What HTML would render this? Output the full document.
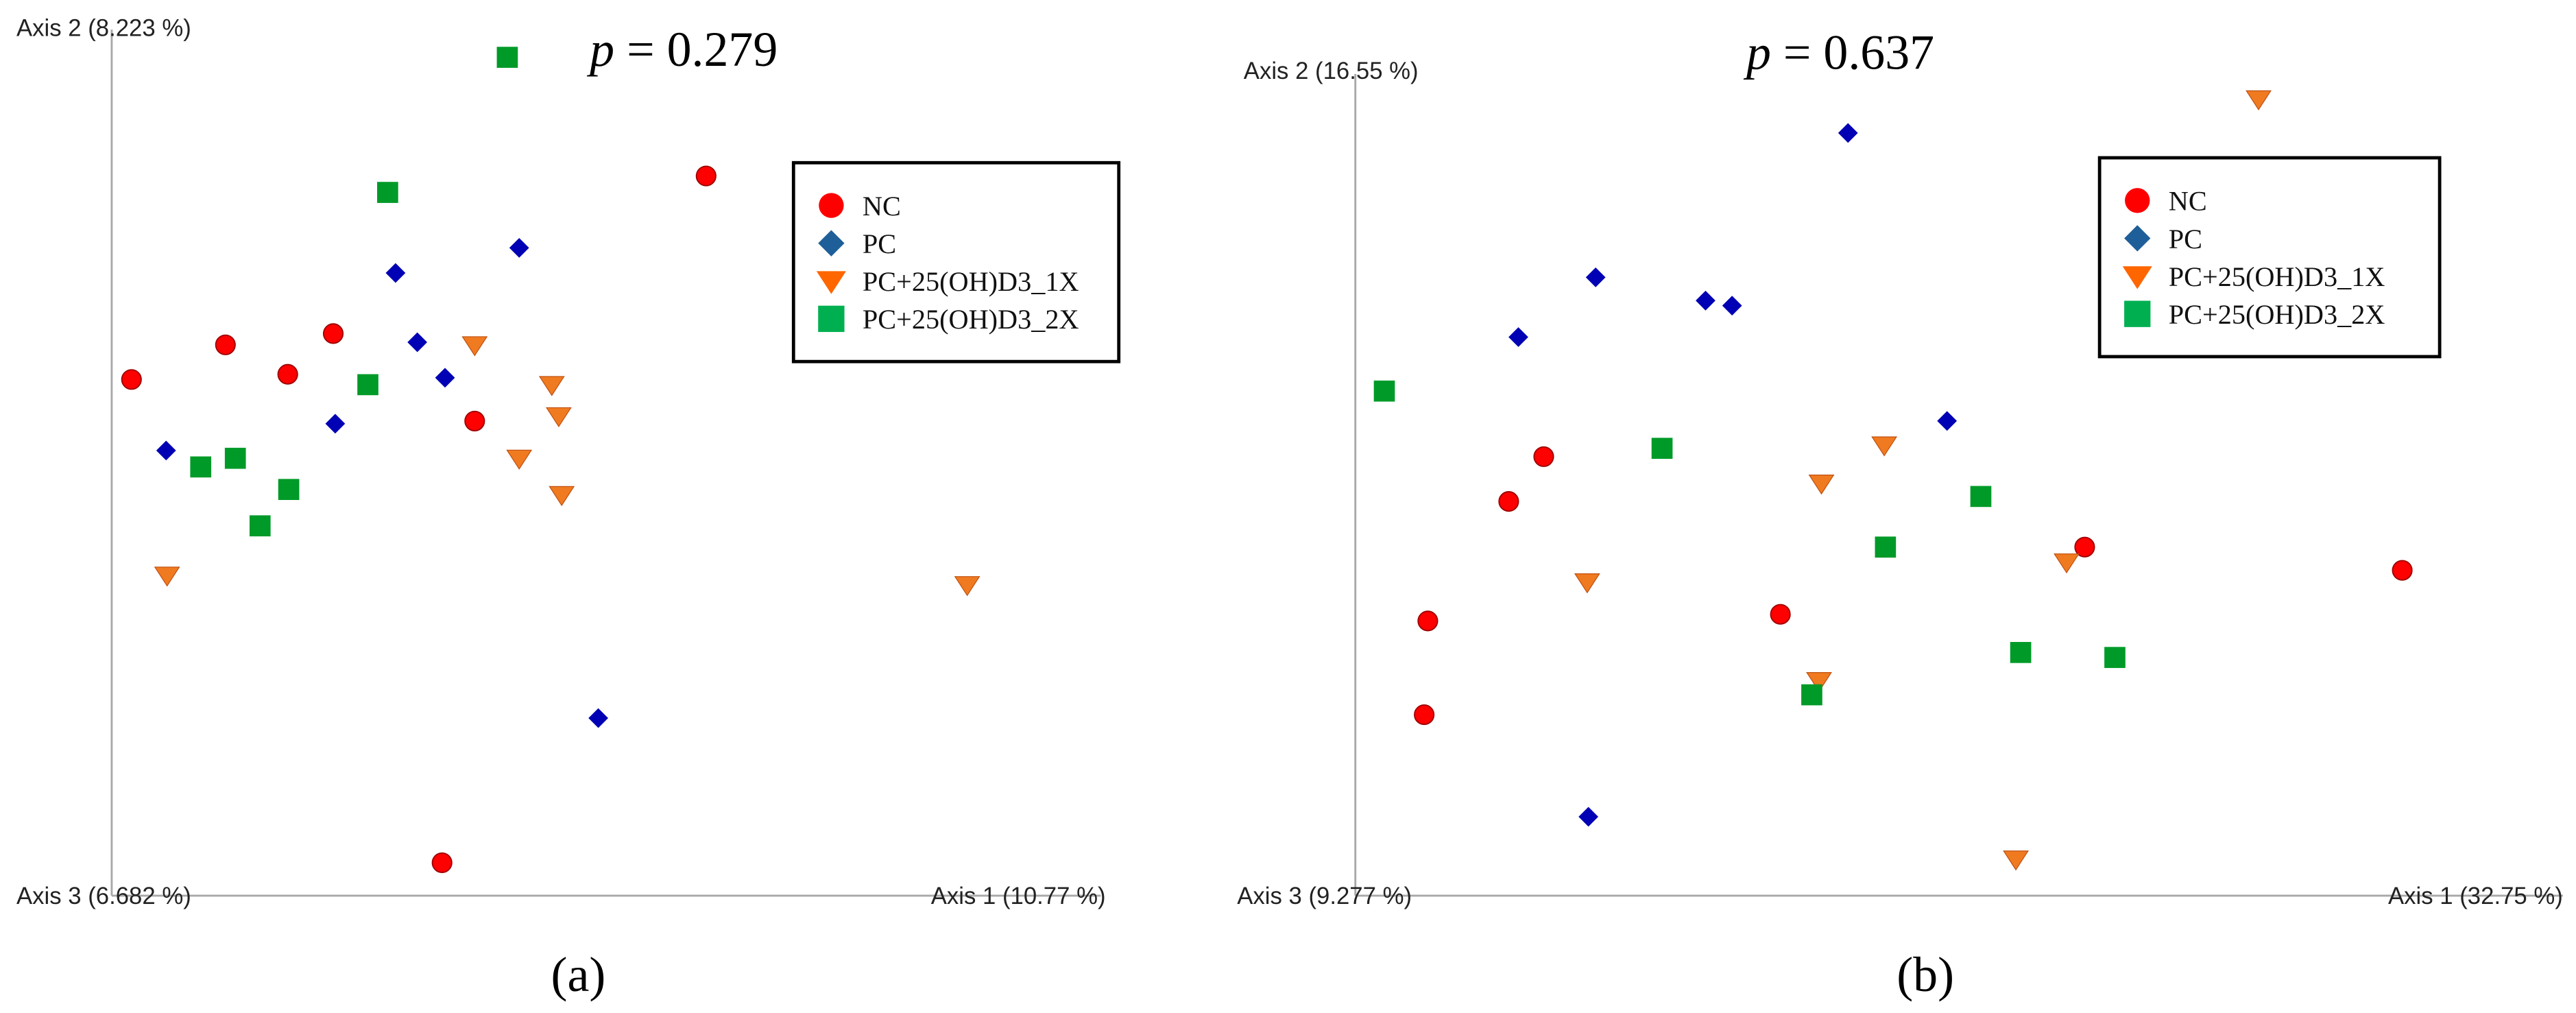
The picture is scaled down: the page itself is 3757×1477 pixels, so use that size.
<!DOCTYPE html>
<html><head><meta charset="utf-8"><style>
html,body{margin:0;padding:0;background:#fff;}
svg{display:block;}
</style></head><body>
<svg id="chart" width="3757" height="1477" viewBox="0 0 1568 616.4" xmlns="http://www.w3.org/2000/svg">
<g id="root"></g>
</svg>
<script>
// Panel (a) data: axis-relative units 0..100
const aNC_x=[2.0,11.5,17.8,22.4,36.7,60.1,33.4];
const aNC_y=[59.6,63.6,60.2,64.9,54.8,83.1,3.8];
const aPC_x=[5.5,22.6,28.7,30.9,33.7,41.2,49.2];
const aPC_y=[51.4,54.5,71.9,63.9,59.8,74.8,20.5];
const a1X_x=[5.6,36.7,44.5,45.2,41.2,45.5,86.5];
const a1X_y=[37.0,63.6,59.0,55.4,50.5,46.3,35.9];
const a2X_x=[40.0,27.9,25.9,9.0,12.5,17.9,15.0];
const a2X_y=[96.8,81.2,59.0,49.5,50.5,46.9,42.7];
// Panel (b) data
const bNC_x=[15.6,12.7,6.0,5.7,35.2,60.4,86.7];
const bNC_y=[52.9,47.5,33.1,21.8,33.9,42.0,39.2];
const bPC_x=[40.8,19.9,13.5,29.0,31.2,49.0,19.3];
const bPC_y=[91.9,74.5,67.3,71.7,71.1,57.2,9.5];
const b1X_x=[74.8,43.8,38.6,19.2,58.9,38.4,54.7];
const b1X_y=[96.0,54.3,49.7,37.8,40.2,25.9,4.4];
const b2X_x=[2.4,25.4,51.8,43.9,55.1,62.9,37.8];
const b2X_y=[60.8,53.9,48.1,42.0,29.3,28.7,24.2];
const legendLabels=["NC","PC","PC+25(OH)D3_1X","PC+25(OH)D3_2X"];

const NS="http://www.w3.org/2000/svg";
const root=document.getElementById('root');
function mk(tag,attrs,parent){const e=document.createElementNS(NS,tag);for(const k in attrs)e.setAttribute(k,attrs[k]);(parent||root).appendChild(e);return e;}
function marker(g,type,cx,cy,s,legend){
  let e;
  if(type===0){e=mk('circle',{cx:cx,cy:cy,r:s*0.95,fill:'#ff0000',stroke:legend?'none':'#a00000','stroke-width':0.8},g);}
  else if(type===1){e=mk('polygon',{points:`${cx},${cy-s} ${cx+s},${cy} ${cx},${cy+s} ${cx-s},${cy}`,fill:legend?'#1f5f99':'#0000b4'},g);}
  else if(type===2){const w=s*1.2;e=mk('polygon',{points:`${cx-w},${cy-s*0.8} ${cx+w},${cy-s*0.8} ${cx},${cy+s*1.05}`,fill:legend?'#ff6600':'#f07a20',stroke:legend?'none':'#c05010','stroke-width':0.5},g);}
  else {e=mk('rect',{x:cx-s,y:cy-s,width:2*s,height:2*s,fill:legend?'#00b050':'#009a28'},g);}
  return e;
}
function panel(cfg){
  const g=mk('g',{});
  
  
  const sx=v=>cfg.x0+(cfg.x1-cfg.x0)*v/100;
  const sy=v=>cfg.y0-(cfg.y0-cfg.y1)*v/100;
  const ya=mk('line',{x1:cfg.x0,y1:cfg.y0,x2:cfg.x0,y2:cfg.yTop,stroke:'#a8a8a8','stroke-width':1.2},g);
  
  
  const xa=mk('line',{x1:cfg.x0,y1:cfg.y0,x2:cfg.xEnd,y2:cfg.y0,stroke:'#a8a8a8','stroke-width':1.2},g);
  
  
  const series=[cfg.nc,cfg.pc,cfg.x1x,cfg.x2x];
  const sizes=[6.2,6,6.2,6.4];
  const names=['nc','pc','1x','2x'];
  series.forEach((s,t)=>{
    for(let i=0;i<s[0].length;i++){
      const m=marker(g,t,sx(s[0][i]),sy(s[1][i]),sizes[t],false);
      
      
    }
  });
  const tf='font-family:"Liberation Sans",sans-serif;font-size:14.5px;fill:#222';
  let t=mk('text',{x:cfg.l2x,y:cfg.l2y,style:tf},g);t.textContent=cfg.lab2;
  
  
  t=mk('text',{x:cfg.l3x,y:cfg.y0+5,style:tf},g);t.textContent=cfg.lab3;
  
  
  t=mk('text',{x:cfg.l1x,y:cfg.y0+5,style:tf,'text-anchor':'end'},g);t.textContent=cfg.lab1;
  
  
  t=mk('text',{x:cfg.px,y:cfg.py,style:'font-family:"Liberation Serif",serif;font-size:30px;fill:#000'},g);
  t.innerHTML='<tspan font-style="italic">p</tspan> = '+cfg.pval;
  
  
  t=mk('text',{x:cfg.cx,y:603,style:'font-family:"Liberation Serif",serif;font-size:30px;fill:#000','text-anchor':'middle'},g);
  t.textContent=cfg.cap;
  
  
  const lg=mk('g',{},g);
  
  
  mk('rect',{x:cfg.lgx,y:cfg.lgy,width:cfg.lgw,height:121,fill:'#fff',stroke:'#000','stroke-width':2},lg);
  legendLabels.forEach((lab,i)=>{
    const yy=cfg.lgy+27+i*23;
    const m=marker(lg,i,cfg.lgx+23,yy-1,i===2?7.5:8,true);
    
    
    const tx=mk('text',{x:cfg.lgx+42,y:yy+5,style:'font-family:"Liberation Serif",serif;font-size:16.8px;fill:#111'},lg);
    tx.textContent=lab;
    
    
  });
}
panel({name:'panel-a',x0:68,x1:670,y0:545,y1:18,yTop:18,xEnd:670,
  nc:[aNC_x,aNC_y],pc:[aPC_x,aPC_y],x1x:[a1X_x,a1X_y],x2x:[a2X_x,a2X_y],
  lab2:'Axis 2 (8.223 %)',l2x:10,l2y:22,lab3:'Axis 3 (6.682 %)',l3x:10,lab1:'Axis 1 (10.77 %)',l1x:673,
  px:359,py:40,pval:'0.279',cx:352,cap:'(a)',lgx:483,lgy:99,lgw:198});
panel({name:'panel-b',x0:825,x1:1560,y0:545,y1:40,yTop:45,xEnd:1560,
  nc:[bNC_x,bNC_y],pc:[bPC_x,bPC_y],x1x:[b1X_x,b1X_y],x2x:[b2X_x,b2X_y],
  lab2:'Axis 2 (16.55 %)',l2x:757,l2y:48,lab3:'Axis 3 (9.277 %)',l3x:753,lab1:'Axis 1 (32.75 %)',l1x:1560,
  px:1063,py:42,pval:'0.637',cx:1172,cap:'(b)',lgx:1278,lgy:96,lgw:207});
</script>
</body></html>
